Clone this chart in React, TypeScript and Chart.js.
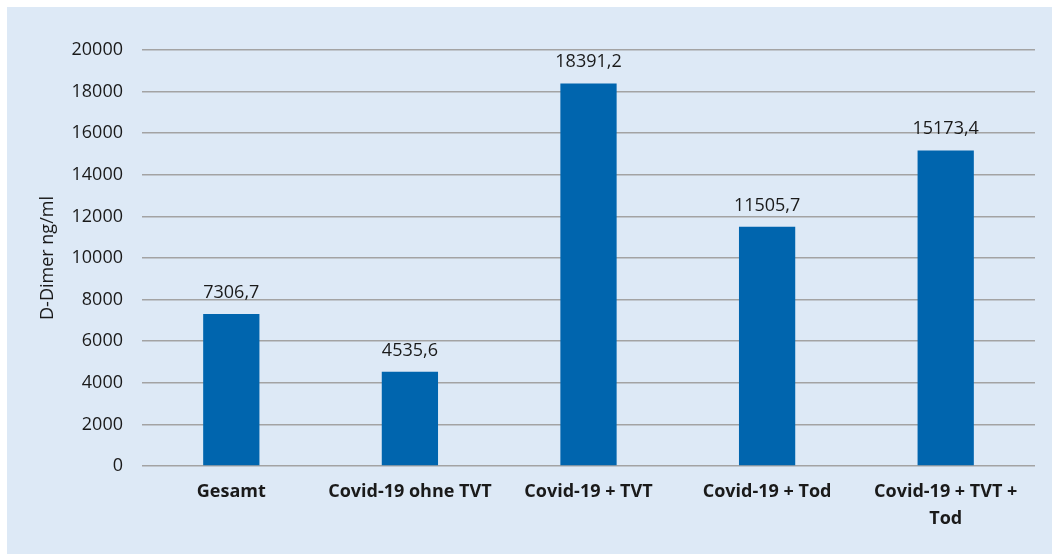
import React, { useEffect, useRef } from "react";
import { Chart, registerables } from "chart.js";

Chart.register(...registerables);

const categories: (string | string[])[] = [
  "Gesamt",
  "Covid-19 ohne TVT",
  "Covid-19 + TVT",
  "Covid-19 + Tod",
  ["Covid-19 + TVT +", "Tod"],
];
const dDimerValues: number[] = [7306.7, 4535.6, 18391.2, 11505.7, 15173.4];
const yAxisTitle = "D-Dimer ng/ml";

const FONT = "'Open Sans', 'Noto Sans', sans-serif";

const valueLabelPlugin = {
  id: "valueLabels",
  afterDatasetsDraw(chart: any) {
    const ctx = chart.ctx;
    const meta = chart.getDatasetMeta(0);
    const data = chart.data.datasets[0].data as number[];
    ctx.save();
    ctx.font = `18px ${FONT}`;
    ctx.fillStyle = "#1a1a1a";
    ctx.textAlign = "center";
    ctx.textBaseline = "alphabetic";
    meta.data.forEach((bar: any, i: number) => {
      const txt = data[i].toFixed(1).replace(".", ",");
      ctx.fillText(txt, bar.x, bar.y - 16);
    });
    ctx.restore();
  },
};

export default function App() {
  const ref = useRef<HTMLCanvasElement>(null);
  useEffect(() => {
    if (!ref.current) return;
    const chart = new Chart(ref.current, {
      type: "bar",
      data: {
        labels: categories,
        datasets: [
          {
            data: dDimerValues,
            backgroundColor: "#0065ae",
            barPercentage: 0.315,
            categoryPercentage: 1,
          },
        ],
      },
      options: {
        animation: false,
        responsive: false,
        maintainAspectRatio: false,
        layout: { padding: { left: 24, top: 43, right: 17, bottom: 0 } },
        plugins: { legend: { display: false }, tooltip: { enabled: false } },
        scales: {
          x: {
            grid: { display: false, drawTicks: false },
            border: { display: false },
            ticks: {
              color: "#1a1a1a",
              font: { family: FONT, size: 18, weight: "bold", lineHeight: 1.5 },
              padding: 12,
              autoSkip: false,
              maxRotation: 0,
            },
            afterFit: (s: any) => {
              s.height = 88;
            },
          },
          y: {
            min: 0,
            max: 20000,
            ticks: {
              stepSize: 2000,
              color: "#1a1a1a",
              font: { family: FONT, size: 18 },
              padding: 19,
              callback: (v: any) => String(v),
            },
            grid: { color: "#a3a3a3", lineWidth: 1.5, drawTicks: false },
            border: { display: false },
            title: {
              display: true,
              text: yAxisTitle,
              color: "#1a1a1a",
              font: { family: FONT, size: 18 },
              padding: { top: 6, bottom: 4 },
            },
            afterFit: (s: any) => {
              s.width = 111;
            },
          },
        },
      },
      plugins: [valueLabelPlugin],
    });
    return () => chart.destroy();
  }, []);
  return (
    <div
      style={{
        position: "fixed",
        left: 7,
        top: 7,
        width: 1045,
        height: 547,
        background: "#dde9f6",
      }}
    >
      <canvas ref={ref} width={1045} height={547} style={{ display: "block" }} />
    </div>
  );
}
